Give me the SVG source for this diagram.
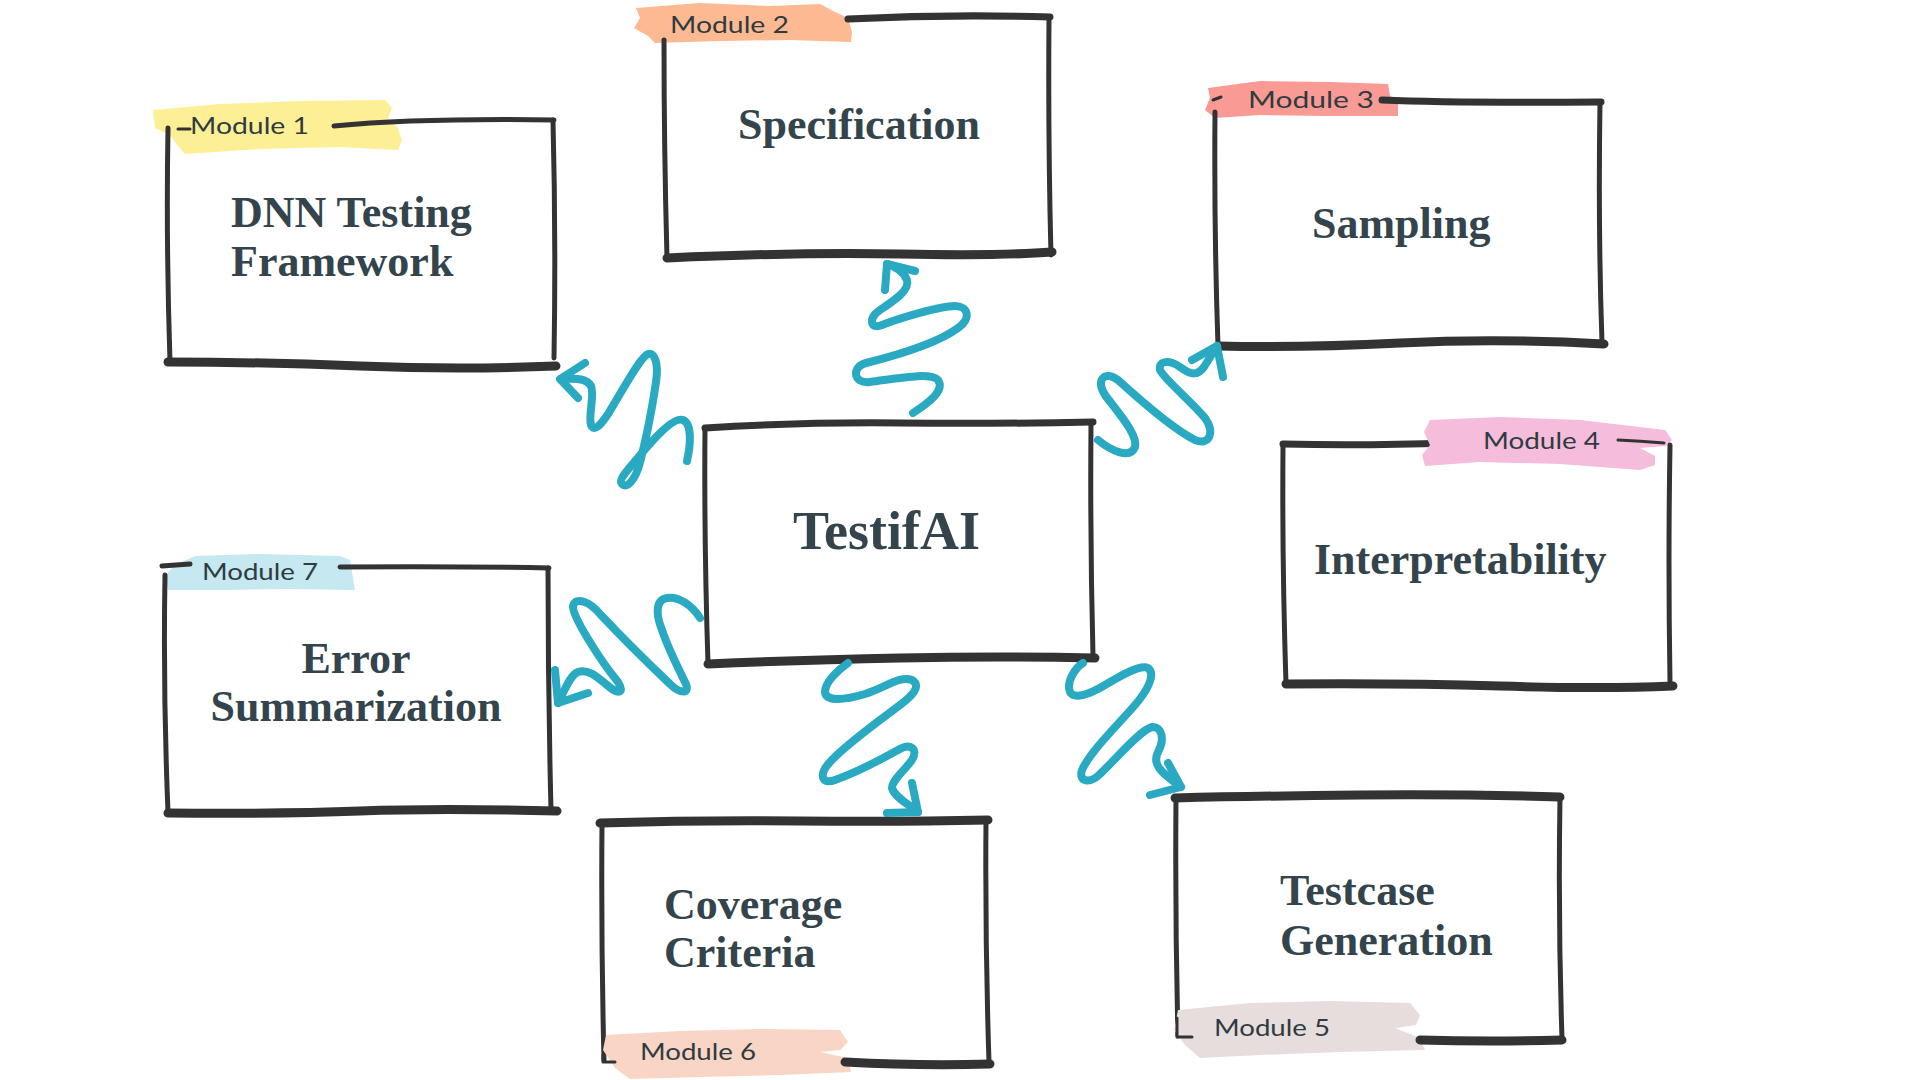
<svg xmlns="http://www.w3.org/2000/svg" width="1920" height="1080" viewBox="0 0 1920 1080">
<style>
.e{stroke:#333333;fill:none;stroke-linecap:round;stroke-linejoin:round}
.s{stroke-width:5}
.t{stroke-width:7}
.b{stroke-width:9}
.k{stroke-width:3}
.title{font-family:"Liberation Serif","Times New Roman",serif;font-weight:700;font-size:44px;fill:#34444c}
.big{font-size:54px}
.mod{font-family:Lato,"Liberation Sans",sans-serif;font-size:24px;fill:#2f3b40}
.conn{stroke:#2aa9c3;stroke-width:8;fill:none;stroke-linecap:round;stroke-linejoin:round}
</style>
<rect width="1920" height="1080" fill="#ffffff"/>

<g id="node-1">
<path d="M153,110 L220,104 L300,101 L385,100 L392,108 L388,118 L398,128 L402,140 L398,150 L340,147 L260,149 L185,154 L178,146 L170,135 L155,128 Z" fill="#fdef95"/>
<path class="e s" d="M168,128 Q166,240 170,362"/>
<path class="e s" d="M553,120 Q556,240 554,358"/>
<path class="e s" d="M334,126 Q420,118 554,120"/>
<path class="e b" d="M168,362 Q260,362 360,366 T556,366"/>
<path class="e k" d="M178,129 L190,129"/>
<text class="mod" x="190" y="134" textLength="119" lengthAdjust="spacingAndGlyphs">Module 1</text>
<text class="title" x="231" y="227">DNN Testing</text>
<text class="title" x="231" y="276">Framework</text>
</g>

<g id="node-2">
<path d="M636,8 L700,3 L770,6 L820,4 L835,12 L848,18 L852,32 L851,42 L790,40 L720,41 L655,43 L648,36 L634,28 L640,18 Z" fill="#fdb992"/>
<path class="e s" d="M664,40 Q664,150 667,258"/>
<path class="e t" d="M848,19 Q950,14 1050,17"/>
<path class="e s" d="M1049,17 Q1048,140 1051,255"/>
<path class="e b" d="M667,258 Q800,252 900,254 T1052,252"/>
<text class="mod" x="670" y="33" textLength="119" lengthAdjust="spacingAndGlyphs">Module 2</text>
<text class="title" x="738" y="139">Specification</text>
</g>

<g id="node-3">
<path d="M1208,88 L1260,81 L1330,82 L1388,84 L1390,96 L1398,100 L1398,116 L1330,116 L1260,115 L1215,118 L1205,110 L1210,98 Z" fill="#f99a94"/>
<path class="e s" d="M1215,112 Q1214,230 1218,346"/>
<path class="e t" d="M1382,100 Q1450,103 1601,102"/>
<path class="e s" d="M1600,102 Q1598,230 1602,342"/>
<path class="e b" d="M1218,346 Q1300,348 1400,343 T1604,344"/>
<path class="e k" d="M1213,100 L1221,97"/>
<text class="mod" x="1248" y="108" textLength="126" lengthAdjust="spacingAndGlyphs">Module 3</text>
<text class="title" x="1312" y="238">Sampling</text>
</g>

<g id="node-4">
<path class="e t" d="M1283,444 Q1360,446 1450,443"/>
<path d="M1430,420 L1500,417 L1580,420 L1665,430 L1672,440 L1666,446 L1640,448 L1655,456 L1655,465 L1640,470 L1560,464 L1480,462 L1425,466 L1422,455 L1430,445 L1424,432 Z" fill="#f5bddb"/>
<path class="e k" d="M1618,440 Q1640,441 1664,443"/>
<path class="e s" d="M1670,445 Q1668,560 1670,682"/>
<path class="e s" d="M1283,446 Q1282,560 1286,684"/>
<path class="e b" d="M1286,684 Q1400,683 1500,686 T1673,686"/>
<text class="mod" x="1483" y="449" textLength="117" lengthAdjust="spacingAndGlyphs">Module 4</text>
<text class="title" x="1314" y="574">Interpretability</text>
</g>

<g id="node-center">
<path class="e t" d="M705,428 Q800,422 900,423 T1093,422"/>
<path class="e s" d="M705,428 Q704,540 708,664"/>
<path class="e s" d="M1091,423 Q1090,540 1093,656"/>
<path class="e b" d="M708,664 Q800,660 900,658 T1095,658"/>
<text class="title big" x="793" y="549">TestifAI</text>
</g>

<g id="node-7">
<path d="M195,556 L260,554 L340,556 L350,560 L355,590 L290,589 L220,590 L168,590 L165,575 L175,565 Z" fill="#c5e8f1"/>
<path class="e s" d="M340,567 Q450,566 549,568"/>
<path class="e s" d="M165,575 Q163,690 168,812"/>
<path class="e s" d="M548,568 Q548,690 551,810"/>
<path class="e b" d="M168,813 Q280,814 360,811 T557,811"/>
<path class="e s" d="M162,566 L190,564"/>
<text class="mod" x="202" y="580" textLength="116" lengthAdjust="spacingAndGlyphs">Module 7</text>
<text class="title" x="356" y="673" text-anchor="middle">Error</text>
<text class="title" x="356" y="721" text-anchor="middle">Summarization</text>
</g>

<g id="node-6">
<path class="e b" d="M600,823 Q700,820 800,821 T988,820"/>
<path class="e s" d="M602,823 Q601,940 604,1060"/>
<path class="e s" d="M986,820 Q985,940 989,1062"/>
<path d="M606,1035 L680,1031 L760,1029 L840,1030 L848,1042 L840,1050 L820,1052 L848,1058 L851,1072 L780,1075 L700,1077 L630,1079 L615,1068 L603,1050 Z" fill="#f8d5c4"/>
<path class="e b" d="M845,1062 Q920,1066 990,1064"/>
<path class="e k" d="M603,1055 L603,1062 L615,1062"/>
<text class="mod" x="640" y="1060" textLength="116" lengthAdjust="spacingAndGlyphs">Module 6</text>
<text class="title" x="664" y="919">Coverage</text>
<text class="title" x="664" y="967">Criteria</text>
</g>

<g id="node-5">
<path class="e b" d="M1175,798 Q1260,796 1360,795 T1560,797"/>
<path class="e s" d="M1176,798 Q1175,920 1178,1036"/>
<path class="e s" d="M1560,797 Q1558,920 1562,1038"/>
<path d="M1178,1010 L1250,1003 L1330,1001 L1410,1003 L1420,1015 L1416,1025 L1395,1028 L1420,1038 L1425,1050 L1340,1052 L1260,1055 L1200,1058 L1185,1045 L1174,1030 Z" fill="#e7dddd"/>
<path class="e b" d="M1420,1040 Q1490,1042 1562,1040"/>
<path class="e k" d="M1177,1018 L1177,1037 L1192,1037"/>
<text class="mod" x="1214" y="1036" textLength="116" lengthAdjust="spacingAndGlyphs">Module 5</text>
<text class="title" x="1280" y="905">Testcase</text>
<text class="title" x="1280" y="955">Generation</text>
</g>

<g id="connectors">
<path class="conn" d="M687,461 C690,448 693,424 683,420 C673,416 650,443 636,460 C627,471 618,480 622,484 C627,489 634,480 638,469 C644,450 652,410 656,382 C659,362 654,352 648,354 C640,357 620,395 608,414 C600,426 594,432 591,425 C588,415 595,395 591,386 C586,377 573,379 561,379"/>
<path class="conn" d="M585,363 L560,379 L578,398"/>

<path class="conn" d="M913,413 C930,402 945,390 938,380 C930,372 900,378 870,382 C852,384 852,366 866,363 C890,357 935,345 958,328 C972,318 968,306 955,306 C940,306 900,318 882,325 C870,330 868,318 880,310 C895,300 910,290 907,280 C904,272 895,266 887,264"/>
<path class="conn" d="M915,271 L887,264 L885,290"/>

<path class="conn" d="M1098,440 C1110,450 1130,460 1135,447 C1138,435 1120,415 1105,395 C1095,380 1105,370 1118,380 C1140,400 1175,430 1195,440 C1210,446 1215,432 1205,418 C1190,400 1165,380 1160,370 C1158,360 1170,360 1180,367 C1192,376 1198,375 1204,367 L1217,346"/>
<path class="conn" d="M1192,360 L1217,346 L1223,377"/>

<path class="conn" d="M700,618 C692,605 678,596 667,598 C655,600 656,615 662,630 C668,648 680,672 686,684 C690,694 680,694 670,684 C650,665 615,630 600,614 C590,602 576,596 573,606 C572,616 600,660 618,682 C624,692 620,694 612,689 C600,680 590,668 578,672 C570,675 565,690 558,703"/>
<path class="conn" d="M555,670 L558,703 L588,693"/>

<path class="conn" d="M848,663 C838,670 825,682 825,692 C826,702 845,700 865,694 C885,688 900,675 912,680 C922,686 912,696 900,705 C880,720 845,745 830,762 C818,775 822,785 835,780 C855,773 880,760 898,750 C912,742 918,750 912,760 C905,770 892,780 892,788 C895,798 910,805 918,812"/>
<path class="conn" d="M912,783 L918,812 L887,813"/>

<path class="conn" d="M1083,663 C1075,668 1066,682 1070,692 C1074,700 1090,694 1105,685 C1120,676 1140,664 1148,668 C1156,674 1148,690 1135,705 C1115,728 1090,752 1082,770 C1078,782 1090,784 1100,774 C1115,760 1140,730 1152,727 C1162,726 1165,740 1158,752 C1152,764 1160,772 1181,787"/>
<path class="conn" d="M1168,763 L1181,787 L1150,795"/>
</g>
</svg>
